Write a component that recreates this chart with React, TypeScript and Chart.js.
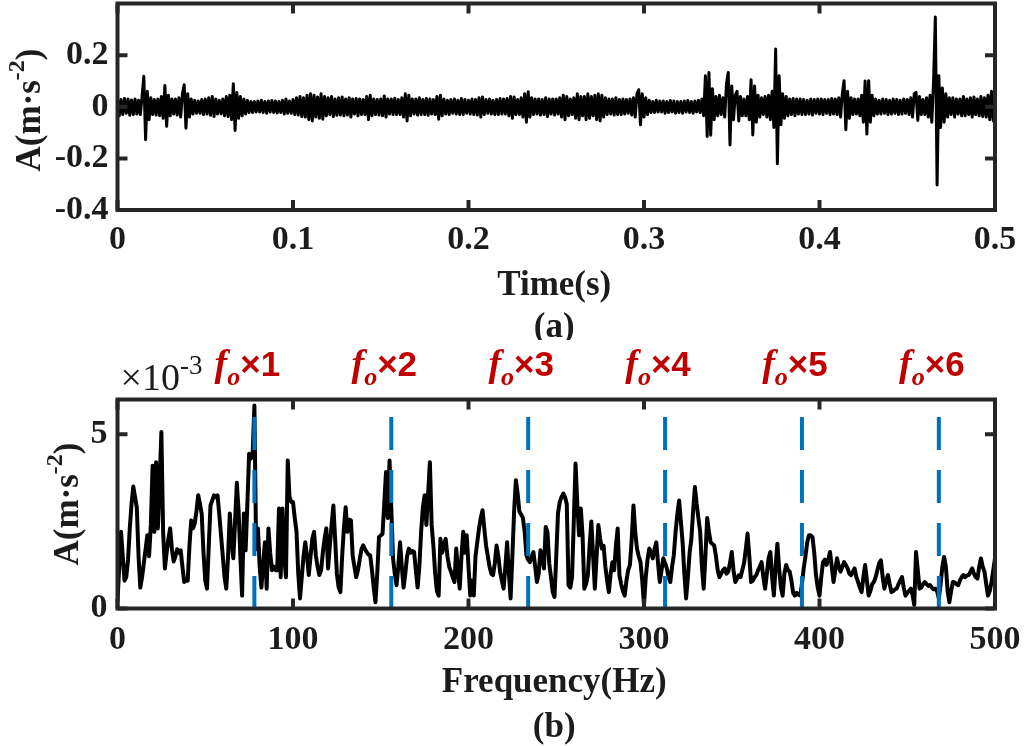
import React, { useEffect, useRef } from 'react';
import { Chart, registerables } from 'chart.js';

Chart.register(...registerables);

// ---------- data ----------
// (a) time signal, sampled every DT seconds, in m·s^-2
const DT = 0.001;
const TIME_SIGNAL = [
  0.03, -0.035, 0.028, -0.03, 0.032, -0.025, 0.03, -0.033, 0.026, -0.03,
  0.03, -0.028, 0.025, -0.03, 0.04, 0.118, -0.128, 0.06, -0.05, 0.035,
  -0.03, 0.028, -0.032, 0.03, -0.035, 0.04, -0.045, 0.082, -0.076, 0.045,
  -0.035, 0.03, -0.028, 0.03, -0.032, 0.035, -0.04, 0.05, 0.085, -0.083,
  0.05, -0.04, 0.03, -0.028, 0.025, -0.025, 0.022, -0.025, 0.028, -0.03,
  0.03, -0.028, 0.035, -0.033, 0.04, -0.038, 0.03, -0.028, 0.025, -0.027,
  0.03, -0.035, 0.04, -0.038, 0.045, -0.05, 0.089, -0.092, 0.055, -0.045,
  0.04, -0.035, 0.03, -0.028, 0.025, -0.022, 0.02, -0.022, 0.02, -0.02,
  0.022, -0.02, 0.025, -0.022, 0.02, -0.025, 0.022, -0.02, 0.024, -0.022,
  0.022, -0.024, 0.02, -0.022, 0.025, -0.028, 0.03, -0.025, 0.022, -0.025,
  0.028, -0.03, 0.035, -0.032, 0.04, -0.038, 0.035, -0.04, 0.045, -0.05,
  0.05, -0.055, 0.045, -0.04, 0.038, -0.045, 0.05, -0.048, 0.04, -0.035,
  0.035, -0.03, 0.04, -0.038, 0.03, -0.033, 0.035, -0.032, 0.038, -0.035,
  0.03, -0.032, 0.035, -0.04, 0.03, -0.028, 0.032, -0.035, 0.03, -0.03,
  0.028, -0.03, 0.04, -0.05, 0.045, -0.035, 0.03, -0.03, 0.028, -0.032,
  0.03, -0.035, 0.042, -0.04, 0.03, -0.028, 0.03, -0.03, 0.033, -0.03,
  0.028, -0.03, 0.035, -0.04, 0.05, -0.055, 0.045, -0.035, 0.03, -0.028,
  0.03, -0.032, 0.035, -0.03, 0.028, -0.03, 0.032, -0.033, 0.03, -0.028,
  0.028, -0.03, 0.04, -0.048, 0.045, -0.035, 0.03, -0.028, 0.025, -0.03,
  0.028, -0.025, 0.03, -0.028, 0.025, -0.03, 0.032, -0.03, 0.028, -0.025,
  0.025, -0.028, 0.03, -0.03, 0.028, -0.032, 0.035, -0.04, 0.038, -0.03,
  0.028, -0.025, 0.03, -0.028, 0.025, -0.03, 0.028, -0.03, 0.032, -0.028,
  0.03, -0.028, 0.032, -0.035, 0.04, -0.045, 0.038, -0.03, 0.028, -0.03,
  0.035, -0.04, 0.05, -0.06, 0.058, -0.04, 0.035, -0.03, 0.03, -0.028,
  0.03, -0.032, 0.028, -0.03, 0.035, -0.038, 0.03, -0.028, 0.03, -0.032,
  0.03, -0.028, 0.035, -0.04, 0.045, -0.05, 0.04, -0.035, 0.03, -0.03,
  0.035, -0.045, 0.05, -0.05, 0.04, -0.035, 0.04, -0.05, 0.05, -0.045,
  0.04, -0.035, 0.045, -0.05, 0.05, -0.055, 0.045, -0.04, 0.035, -0.03,
  0.03, -0.028, 0.03, -0.032, 0.035, -0.03, 0.028, -0.03, 0.03, -0.028,
  0.028, -0.025, 0.03, -0.032, 0.035, -0.04, 0.05, 0.066, -0.07, 0.05,
  -0.04, 0.035, -0.03, 0.025, -0.022, 0.02, -0.022, 0.025, -0.02, 0.022,
  -0.02, 0.022, -0.025, 0.02, -0.022, 0.024, -0.02, 0.022, -0.025, 0.02,
  -0.022, 0.02, -0.025, 0.022, -0.02, 0.024, -0.022, 0.02, -0.025, 0.022,
  -0.02, 0.025, -0.022, 0.03, -0.035, 0.12, -0.115, 0.133, -0.11, 0.07,
  -0.05, 0.04, -0.035, 0.045, -0.03, 0.035, -0.04, 0.09, 0.133, -0.148,
  0.08, -0.05, 0.045, 0.06, -0.055, 0.04, -0.035, 0.03, -0.035, 0.04,
  -0.05, 0.105, -0.109, 0.08, -0.06, 0.045, -0.04, 0.035, -0.03, 0.04,
  -0.04, 0.045, -0.05, 0.06, -0.08, 0.224, -0.221, 0.12, -0.07, 0.05,
  -0.045, 0.04, -0.035, 0.03, -0.03, 0.032, -0.035, 0.03, -0.028, 0.03,
  -0.03, 0.028, -0.03, 0.025, -0.028, 0.03, -0.032, 0.028, -0.025, 0.03,
  -0.028, 0.03, -0.03, 0.028, -0.025, 0.028, -0.03, 0.032, -0.028, 0.03,
  -0.03, 0.035, -0.04, 0.05, 0.101, -0.089, 0.06, -0.045, 0.035, -0.03,
  0.03, -0.028, 0.03, -0.035, 0.045, -0.06, 0.1, -0.106, 0.101, -0.06,
  0.045, -0.035, 0.03, -0.028, 0.025, -0.028, 0.03, -0.025, 0.028, -0.03,
  0.025, -0.028, 0.03, -0.025, 0.028, -0.03, 0.025, -0.028, 0.03, -0.025,
  0.028, -0.03, 0.035, -0.04, 0.05, 0.056, -0.053, 0.04, -0.03, 0.028,
  -0.03, 0.035, -0.04, 0.045, -0.06, 0.1, 0.348, -0.303, 0.12, -0.08,
  0.073, -0.06, 0.05, -0.04, 0.035, -0.03, 0.035, -0.04, 0.03, -0.028,
  0.03, -0.035, 0.04, -0.035, 0.03, -0.03, 0.035, -0.04, 0.038, -0.03,
  0.03, -0.035, 0.04, -0.038, 0.035, -0.04, 0.045, -0.05, 0.06, -0.055,
  0.05,
];

// (b) amplitude spectrum, every DF Hz, in units of 10^-3 m·s^-2
const DF = 1;
const SPECTRUM = [
  0.2, 1.2, 2.2, 1.5, 0.8, 0.9, 1.4, 2.3, 3.0, 3.5,
  3.2, 2.9, 1.5, 0.6, 0.9, 1.3, 1.7, 2.1, 1.5, 2.4,
  4.1, 2.2, 4.2, 2.3, 3.6, 5.07, 2.2, 1.15, 1.6, 2.0,
  2.3, 1.7, 1.35, 1.5, 1.7, 1.6, 1.67, 1.2, 0.76, 0.8,
  0.8, 1.8, 2.53, 2.3, 2.44, 2.8, 3.25, 3.0, 2.7, 1.6,
  0.8, 0.57, 1.8, 2.96, 3.1, 3.25, 3.2, 3.25, 2.7, 2.1,
  1.5, 0.9, 0.57, 1.5, 2.73, 1.9, 1.44, 2.5, 3.61, 2.8,
  1.5, 0.37, 2.73, 1.67, 3.0, 4.44, 4.3, 4.4, 5.83, 1.7,
  2.3, 1.2, 0.6, 1.3, 1.9, 0.57, 2.3, 1.6, 1.1, 1.2,
  1.1, 1.1, 2.87, 0.9, 2.87, 1.5, 0.9, 4.25, 3.2, 3.06,
  3.06, 2.6, 2.2, 1.0, 0.29, 0.9, 1.5, 1.9, 1.5, 0.96,
  1.5, 2.0, 2.2, 1.53, 1.2, 0.96, 1.1, 1.6, 2.0, 2.3,
  1.15, 1.81, 2.4, 2.96, 2.0, 1.0, 0.6, 0.47, 1.5, 2.3,
  2.91, 2.2, 2.55, 2.53, 1.52, 1.2, 0.9, 1.1, 1.4, 1.7,
  1.81, 1.7, 1.62, 1.55, 1.52, 1.1, 0.6, 0.18, 1.0, 2.05,
  2.1, 2.14, 3.0, 3.92, 2.6, 4.25, 2.87, 1.44, 1.0, 0.67,
  1.2, 1.9, 1.2, 0.6, 1.0, 1.5, 1.72, 1.6, 1.65, 1.62,
  1.1, 0.6, 1.2, 2.2, 2.9, 3.25, 2.4, 3.3, 4.2, 2.4,
  1.8, 1.0, 0.5, 0.37, 2.0, 1.6, 1.8, 2.0, 1.5, 1.2,
  1.06, 0.9, 0.76, 1.72, 1.1, 0.57, 1.5, 2.2, 1.6, 2.1,
  1.2, 0.37, 0.8, 0.37, 1.5, 1.9, 2.3, 2.6, 2.82, 2.3,
  1.81, 1.5, 1.2, 1.0, 0.96, 1.3, 1.81, 1.5, 1.06, 0.8,
  0.57, 1.2, 1.9, 1.0, 0.29, 1.5, 2.8, 3.68, 3.3, 2.78,
  2.7, 2.6, 2.2, 1.53, 1.4, 1.33, 1.5, 1.62, 1.2, 0.76,
  1.0, 1.67, 1.5, 1.15, 2.34, 2.2, 1.3, 0.9, 0.47, 0.33,
  1.5, 2.73, 3.06, 3.2, 3.3, 3.2, 3.0, 0.67, 0.6, 0.9,
  2.5, 4.16, 3.0, 2.1, 2.87, 2.1, 0.57, 0.7, 0.96, 1.8,
  2.5, 1.5, 0.57, 1.5, 2.4, 2.0, 1.72, 1.8, 1.2, 0.8,
  0.47, 1.0, 1.33, 1.1, 1.8, 2.3, 0.96, 0.7, 0.5, 0.37,
  0.8, 1.1, 1.25, 2.0, 2.96, 2.2, 1.72, 1.5, 1.33, 0.8,
  0.1, 0.9, 1.4, 1.72, 1.6, 1.44, 1.7, 1.9, 1.3, 0.76,
  1.1, 1.44, 1.3, 1.15, 0.9, 0.76, 1.2, 1.53, 2.2, 2.7,
  3.1, 2.5, 1.9, 1.0, 0.29, 0.9, 1.6, 2.0, 2.8, 3.49,
  3.0, 2.6, 2.2, 1.2, 0.57, 1.5, 2.6, 2.2, 1.9, 1.85,
  1.81, 1.5, 1.1, 0.9, 1.0, 1.1, 1.15, 1.0, 1.06, 1.3,
  1.62, 1.1, 0.76, 0.85, 0.95, 0.9, 1.1, 1.3, 1.7, 2.15,
  1.5, 0.76, 0.8, 0.9, 0.96, 1.1, 1.2, 1.33, 0.9, 0.57,
  1.0, 1.44, 1.62, 0.9, 0.37, 1.2, 1.86, 1.15, 0.6, 0.37,
  1.0, 1.25, 1.1, 1.06, 0.8, 0.45, 0.37, 0.45, 0.4, 0.37,
  0.7, 1.15, 1.5, 1.9, 2.1, 2.1, 2.05, 1.6, 0.96, 0.6,
  0.37, 0.9, 1.33, 1.4, 1.25, 1.4, 1.62, 1.2, 0.76, 1.1,
  1.44, 1.2, 1.06, 1.2, 1.33, 1.25, 1.15, 1.0, 0.96, 1.05,
  1.15, 0.9, 0.76, 0.6, 0.47, 0.9, 1.25, 0.8, 0.37, 0.5,
  0.7, 0.76, 0.9, 1.1, 1.3, 1.38, 0.9, 0.57, 0.8, 0.96,
  0.7, 0.47, 0.5, 0.55, 0.57, 0.7, 0.8, 0.9, 0.6, 0.37,
  0.45, 0.5, 0.57, 0.4, 0.1, 1.62, 1.1, 0.57, 0.6, 0.7,
  0.76, 0.7, 0.65, 0.67, 0.6, 0.55, 0.57, 0.5, 0.29, 0.7,
  1.2, 1.48, 1.2, 0.5, 0.18, 0.5, 0.76, 0.75, 0.7, 0.67,
  0.8, 0.9, 0.96, 0.9, 0.95, 0.96, 1.05, 1.15, 1.0, 0.9,
  0.86, 1.2, 1.44, 1.2, 1.06, 0.7, 0.37, 0.5, 0.76, 1.1,
  1.44,
];

// fault characteristic frequency and marked harmonics
const FO = 78; // Hz
const HARMONICS = [1, 2, 3, 4, 5, 6];
const HARMONIC_LINE_TOP = 5.5; // ×10^-3

// axes
const TIME_RANGE = [0, 0.5];
const TIME_STEP = 0.1;
const ACC_RANGE = [-0.4, 0.4];
const ACC_STEP = 0.2;
const FREQ_RANGE = [0, 500];
const FREQ_STEP = 100;
const AMP_RANGE = [0, 6];
const AMP_STEP = 5;

// ---------- styles ----------
const SERIF = '"Liberation Serif", "Times New Roman", serif';
const SANS = '"Liberation Sans", Arial, sans-serif';
const TEXT = '#1c1c1c';
const AXIS = '#262626';
const RED = '#C00000';
const BLUE = '#0072BD';
const TICK_FONT = { family: SERIF, size: 34, weight: 'bold' as const };

type Part = { t: string; font: string; dy?: number; color?: string };

function drawParts(ctx: CanvasRenderingContext2D, parts: Part[], x: number, y: number, align: 'left' | 'center') {
  const widths = parts.map((p) => {
    ctx.font = p.font;
    return ctx.measureText(p.t).width;
  });
  const total = widths.reduce((a, b) => a + b, 0);
  let cx = align === 'center' ? x - total / 2 : x;
  ctx.textAlign = 'left';
  ctx.textBaseline = 'alphabetic';
  parts.forEach((p, i) => {
    ctx.font = p.font;
    ctx.fillStyle = p.color || TEXT;
    ctx.fillText(p.t, cx, y + (p.dy || 0));
    cx += widths[i];
  });
}

function yLabelParts(): Part[] {
  return [
    { t: 'A(m·s', font: `bold 35px ${SERIF}` },
    { t: '-2', font: `bold 24px ${SERIF}`, dy: -16 },
    { t: ')', font: `bold 35px ${SERIF}` },
  ];
}

function drawRotated(ctx: CanvasRenderingContext2D, parts: Part[], baselineX: number, centerY: number) {
  ctx.save();
  ctx.translate(baselineX, centerY);
  ctx.rotate(-Math.PI / 2);
  drawParts(ctx, parts, 0, 0, 'center');
  ctx.restore();
}

const framePlugin = {
  id: 'matlabFrame',
  afterDatasetsDraw(chart: any) {
    const { ctx, chartArea: a, scales } = chart;
    const L = 10;
    ctx.save();
    ctx.strokeStyle = AXIS;
    ctx.lineWidth = 4;
    ctx.lineCap = 'butt';
    ctx.beginPath();
    scales.x.ticks.forEach((t: any) => {
      const px = scales.x.getPixelForValue(t.value);
      ctx.moveTo(px, a.bottom);
      ctx.lineTo(px, a.bottom - L);
      ctx.moveTo(px, a.top);
      ctx.lineTo(px, a.top + L);
    });
    scales.y.ticks.forEach((t: any) => {
      const py = scales.y.getPixelForValue(t.value);
      ctx.moveTo(a.left, py);
      ctx.lineTo(a.left + L, py);
      ctx.moveTo(a.right, py);
      ctx.lineTo(a.right - L, py);
    });
    ctx.stroke();
    ctx.lineJoin = 'miter';
    ctx.strokeRect(a.left, a.top, a.right - a.left, a.bottom - a.top);
    ctx.restore();
  },
};

function fmt(v: number, digits: number) {
  if (Math.abs(v) < 1e-9) return '0';
  return v.toFixed(digits);
}

function axisBase() {
  return {
    grid: { display: false, drawTicks: false },
    border: { display: false },
  };
}

function fixY(width: number) {
  return (s: any) => {
    s.width = width;
    s.paddingTop = 0;
    s.paddingBottom = 0;
  };
}

function fixX(height: number) {
  return (s: any) => {
    s.height = height;
    s.paddingLeft = 0;
    s.paddingRight = 0;
  };
}

export default function App() {
  const topRef = useRef<HTMLCanvasElement | null>(null);
  const botRef = useRef<HTMLCanvasElement | null>(null);

  useEffect(() => {
    const topTitles = {
      id: 'topTitles',
      afterDraw(chart: any) {
        const { ctx, chartArea: a } = chart;
        const cx = (a.left + a.right) / 2 - 2;
        ctx.save();
        drawParts(ctx, [{ t: 'Time(s)', font: `bold 35px ${SERIF}` }], cx, 295, 'center');
        drawParts(ctx, [{ t: '(a)', font: `bold 35px ${SERIF}` }], cx, 337, 'center');
        drawRotated(ctx, yLabelParts(), 40, 110);
        ctx.restore();
      },
    };

    const botTitles = {
      id: 'botTitles',
      afterDraw(chart: any) {
        const { ctx, chartArea: a, scales } = chart;
        const cx = (a.left + a.right) / 2 - 2;
        ctx.save();
        drawParts(ctx, [{ t: 'Frequency(Hz)', font: `bold 35px ${SERIF}` }], cx, 352, 'center');
        drawParts(ctx, [{ t: '(b)', font: `bold 35px ${SERIF}` }], cx, 397, 'center');
        drawRotated(ctx, yLabelParts(), 78, (a.top + a.bottom) / 2);
        drawParts(
          ctx,
          [
            { t: '×10', font: `38px ${SERIF}` },
            { t: '-3', font: `27px ${SERIF}`, dy: -16 },
          ],
          a.left + 3,
          50,
          'left'
        );
        HARMONICS.forEach((k) => {
          const px = scales.x.getPixelForValue(k * FO) - 7;
          drawParts(
            ctx,
            [
              { t: 'f', font: `italic bold 38px ${SERIF}`, color: RED },
              { t: 'o', font: `italic bold 26px ${SERIF}`, dy: 9, color: RED },
              { t: '×' + k, font: `bold 35px ${SANS}`, color: RED },
            ],
            px,
            36,
            'center'
          );
        });
        ctx.restore();
      },
    };

    const top = new Chart(topRef.current as HTMLCanvasElement, {
      type: 'line',
      data: {
        datasets: [
          {
            data: TIME_SIGNAL.map((v, i) => ({ x: i * DT, y: v })),
            borderColor: '#000',
            borderWidth: 3,
            pointRadius: 0,
            tension: 0,
            borderJoinStyle: 'round',
          },
        ],
      },
      options: {
        animation: false,
        responsive: false,
        maintainAspectRatio: false,
        events: [],
        layout: { padding: { top: 3.5, right: 30, left: 0, bottom: 0 } },
        plugins: { legend: { display: false }, tooltip: { enabled: false } },
        scales: {
          x: {
            type: 'linear',
            min: TIME_RANGE[0],
            max: TIME_RANGE[1],
            ...axisBase(),
            ticks: {
              stepSize: TIME_STEP,
              autoSkip: false,
              maxRotation: 0,
              padding: 10,
              color: TEXT,
              font: TICK_FONT,
              callback: (v: any) => fmt(Number(v), 1),
            },
            afterFit: fixX(130),
          },
          y: {
            type: 'linear',
            min: ACC_RANGE[0],
            max: ACC_RANGE[1],
            ...axisBase(),
            ticks: {
              stepSize: ACC_STEP,
              autoSkip: false,
              padding: 9,
              color: TEXT,
              font: TICK_FONT,
              callback: (v: any) => fmt(Number(v), 1),
            },
            afterBuildTicks: (s: any) => {
              s.ticks = s.ticks.filter((t: any) => t.value < ACC_RANGE[1] - 1e-9);
            },
            afterFit: fixY(117.5),
          },
        },
      } as any,
      plugins: [framePlugin, topTitles],
    });

    const bot = new Chart(botRef.current as HTMLCanvasElement, {
      type: 'line',
      data: {
        datasets: [
          ...HARMONICS.map((k) => ({
            data: [
              { x: k * FO, y: HARMONIC_LINE_TOP },
              { x: k * FO, y: 0 },
            ],
            borderColor: BLUE,
            borderWidth: 4,
            borderDash: [33, 20],
            pointRadius: 0,
            order: 0,
          })),
          {
            data: SPECTRUM.map((v, i) => ({ x: i * DF, y: v })),
            borderColor: '#000',
            borderWidth: 4,
            pointRadius: 0,
            tension: 0,
            borderJoinStyle: 'round',
            order: 1,
          },
        ],
      },
      options: {
        animation: false,
        responsive: false,
        maintainAspectRatio: false,
        events: [],
        layout: { padding: { top: 59.5, right: 30, left: 0, bottom: 0 } },
        plugins: { legend: { display: false }, tooltip: { enabled: false } },
        scales: {
          x: {
            type: 'linear',
            min: FREQ_RANGE[0],
            max: FREQ_RANGE[1],
            ...axisBase(),
            ticks: {
              stepSize: FREQ_STEP,
              autoSkip: false,
              maxRotation: 0,
              padding: 11,
              color: TEXT,
              font: TICK_FONT,
              callback: (v: any) => fmt(Number(v), 0),
            },
            afterFit: fixX(137.5),
          },
          y: {
            type: 'linear',
            min: AMP_RANGE[0],
            max: AMP_RANGE[1],
            ...axisBase(),
            ticks: {
              stepSize: AMP_STEP,
              includeBounds: false,
              autoSkip: false,
              padding: 10,
              color: TEXT,
              font: TICK_FONT,
              callback: (v: any) => fmt(Number(v), 0),
            },
            afterFit: fixY(117.5),
          },
        },
      } as any,
      plugins: [framePlugin, botTitles],
    });

    return () => {
      top.destroy();
      bot.destroy();
    };
  }, []);

  return (
    <div style={{ position: 'absolute', left: 0, top: 0, width: 1025, height: 746, background: '#fff', overflow: 'hidden' }}>
      <canvas ref={topRef} width={1025} height={340} style={{ position: 'absolute', left: 0, top: 0, display: 'block' }} />
      <canvas ref={botRef} width={1025} height={406} style={{ position: 'absolute', left: 0, top: 340, display: 'block' }} />
    </div>
  );
}
